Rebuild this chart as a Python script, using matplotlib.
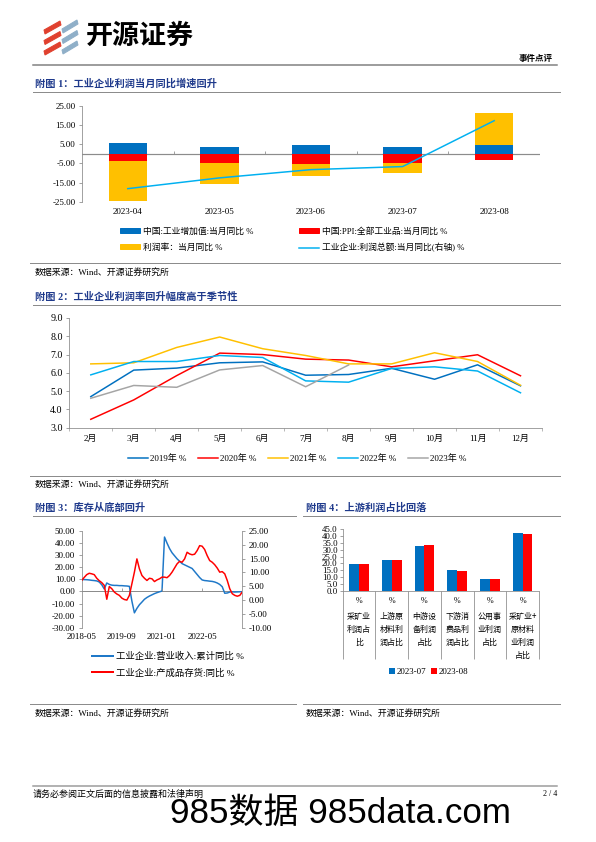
import numpy as np
import pandas as pd
import matplotlib
matplotlib.use("Agg")
import matplotlib.pyplot as plt
from matplotlib.patches import Patch, Polygon
from matplotlib.lines import Line2D
from matplotlib.ticker import FormatStrFormatter

# chart 1 data
c1_months = ["2023-04", "2023-05", "2023-06", "2023-07", "2023-08"]
c1_iva = [5.6, 3.5, 4.4, 3.7, 4.5]
c1_ppi = [-3.8, -4.8, -5.6, -4.6, -3.3]
c1_margin = [-21.0, -11.2, -5.9, -5.3, 16.7]
c1_profit = [-18.2, -12.6, -8.3, -6.7, 17.2]

# chart 2 data
c2_months = ["2月", "3月", "4月", "5月", "6月", "7月", "8月", "9月", "10月", "11月", "12月"]
c2_2019 = [4.70, 6.15, 6.26, 6.55, 6.60, 5.87, 5.91, 6.25, 5.65, 6.44, 5.29]
c2_2020 = [3.46, 4.52, 5.85, 7.08, 7.00, 6.75, 6.70, 6.33, 6.66, 6.99, 5.84]
c2_2021 = [6.49, 6.55, 7.39, 7.96, 7.32, 6.95, 6.49, 6.49, 7.10, 6.62, 5.32]
c2_2022 = [5.89, 6.62, 6.62, 6.95, 6.84, 5.56, 5.49, 6.24, 6.33, 6.10, 4.91]
c2_2023 = [4.61, 5.31, 5.21, 6.16, 6.40, 5.24, 6.43]

# chart 3 data (monthly from 2018-05)
c3_revenue = [9.9, 9.8, 9.7, 9.5, 9.2, 9.0, 8.7, 7.8, 5.5, 2.0,
              7.0, 5.8, 5.2, 5.0, 5.0, 4.8, 4.8, 4.6, 4.5, 4.2,
              -8.0, -17.7, -14.0, -11.0, -8.8, -6.5, -5.0, -3.8, -2.8, -1.8,
              -1.0, -0.3, 0.3, 45.0, 40.0, 35.5, 32.0, 29.5, 27.0, 25.0,
              23.0, 22.0, 21.0, 20.0, 19.0, 16.5, 14.0, 11.5, 9.5, 9.0,
              8.8, 8.5, 8.3, 7.8, 7.0, 5.8, 3.9, -1.5, -1.3, -0.5,
              -0.3, -0.5, -0.4, -0.3, -0.2]
c3_inventory = [7.1, 8.2, 9.2, 9.7, 9.5, 9.2, 7.9, 7.0, 6.3, 5.3,
                0.3, 4.9, 4.1, 2.9, 2.2, 1.7, 0.7, 0.2, 0.0, 1.7,
                5.9, 10.1, 14.9, 11.3, 8.9, 7.9, 7.1, 7.9, 7.7, 6.7,
                7.3, 7.7, 8.3, 8.3, 8.1, 8.9, 10.1, 11.6, 13.1, 14.0,
                13.7, 14.9, 17.3, 16.7, 16.4, 16.6, 17.9, 19.7, 19.5, 18.3,
                16.1, 14.3, 13.7, 12.8, 11.6, 10.1, 10.3, 9.5, 7.1, 4.1,
                2.3, 1.7, 1.4, 1.7, 2.9]
c3_dates = pd.period_range("2018-05", periods=len(c3_revenue), freq="M").strftime("%Y-%m")
c3_tick_idx = [0, 16, 32, 48]

# chart 4 data
c4_cats = ["采矿业\n利润占\n比", "上游原\n材料利\n润占比", "中游设\n备利润\n占比",
           "下游消\n费品利\n润占比", "公用事\n业利润\n占比", "采矿业+\n原材料\n业利润\n占比"]
c4_jul = [19.8, 22.4, 32.6, 15.0, 8.4, 42.0]
c4_aug = [19.4, 22.6, 33.3, 14.8, 8.4, 41.5]

W, H = 596, 842
NAVY = "#1F3A8C"
GRAY = "#8C8C8C"
BLUE = "#0070C0"
RED = "#FF0000"
YELLOW = "#FFC000"
CYAN = "#00B0F0"
SERIF_CJK = ["Liberation Serif", "Noto Sans CJK SC"]
SANS_CJK = ["Noto Sans CJK SC"]

plt.rcParams["font.family"] = SERIF_CJK
plt.rcParams["axes.unicode_minus"] = False
plt.rcParams["font.size"] = 9

fig = plt.figure(figsize=(W / 72, H / 72), dpi=72)


def box(x0, y0, x1, y1):
    return [x0 / W, 1 - y1 / H, (x1 - x0) / W, (y1 - y0) / H]


def hline(x0, x1, y, color=GRAY, lw=1.0):
    fig.add_artist(Line2D([x0 / W, x1 / W], [1 - y / H, 1 - y / H], color=color, lw=lw))


def ftext(x, y, s, **kw):
    fig.text(x / W, 1 - y / H, s, **kw)


def style_axis(ax, sides):
    for s in ["top", "right", "bottom", "left"]:
        ax.spines[s].set_visible(s in sides)
        ax.spines[s].set_color(GRAY)
    ax.tick_params(color=GRAY, labelcolor="black", length=3, width=0.8, labelsize=9)


def title(x, y, s, x0, x1):
    ftext(x, y, s, fontsize=10.2, fontweight="bold", color=NAVY, va="center")
    hline(x0, x1, y + 8)


def source(x, y, x0, x1):
    hline(x0, x1, y - 9)
    ftext(x, y, "数据来源：Wind、开源证券研究所", fontsize=8.9, va="center")


# header, rough logo
for i in range(3):
    yy = 21 + i * 10.5
    fig.add_artist(Polygon([(44 / W, 1 - (yy + 9) / H), (60 / W, 1 - yy / H),
                            (61 / W, 1 - (yy + 4) / H), (45 / W, 1 - (yy + 13) / H)],
                           closed=True, color="#E0402E", transform=fig.transFigure))
    fig.add_artist(Polygon([(62 / W, 1 - (yy + 8) / H), (77 / W, 1 - (yy - 1) / H),
                            (78 / W, 1 - (yy + 3) / H), (63 / W, 1 - (yy + 12) / H)],
                           closed=True, color="#8FAFC8", transform=fig.transFigure))
ftext(86, 36, "开源证券", fontsize=27, fontweight="bold", family=SANS_CJK, va="center")
hline(33, 557, 65, color="#7F7F7F", lw=1.5)
ftext(553, 59, "事件点评", fontsize=8.5, fontweight="bold", family=SANS_CJK, ha="right", va="center")

# chart 1
title(35, 84, "附图 1：工业企业利润当月同比增速回升", 33, 560)
ax1 = fig.add_axes(box(82, 105.7, 540, 201.7))
x1 = np.arange(len(c1_months))
pos = np.zeros(len(x1))
neg = np.zeros(len(x1))
for vals, col in [(c1_iva, BLUE), (c1_ppi, RED), (c1_margin, YELLOW)]:
    v = np.array(vals)
    ax1.bar(x1, v, 0.42, bottom=np.where(v >= 0, pos, neg), color=col, zorder=2)
    pos = pos + np.clip(v, 0, None)
    neg = neg + np.clip(v, None, 0)
ax1.set_xlim(-0.5, 4.5)
ax1.set_ylim(-25, 25)
ax1.set_yticks(np.arange(-25, 26, 10))
ax1.yaxis.set_major_formatter(FormatStrFormatter("%.2f"))
ax1.set_xticks(x1, c1_months)
style_axis(ax1, ["left"])
ax1.tick_params(axis="x", length=0, pad=6)
ax1.axhline(0, color=GRAY, lw=1.2, zorder=1)
ax1.vlines(x1 + 0.5, 0, 1.6, color=GRAY, lw=0.8)
ax1b = ax1.twinx()
ax1b.plot(x1, c1_profit, color=CYAN, lw=1.5)
ax1b.set_ylim(-25, 25)
ax1b.axis("off")

h1 = [Patch(color=BLUE), Patch(color=YELLOW), Patch(color=RED), Line2D([], [], color=CYAN, lw=1.5)]
l1 = ["中国:工业增加值:当月同比 %", "利润率：当月同比 %",
      "中国:PPI:全部工业品:当月同比 %", "工业企业:利润总额:当月同比(右轴) %"]
fig.legend(h1, l1, ncol=2, loc="upper left", bbox_to_anchor=(120 / W, 1 - 227 / H),
           frameon=False, fontsize=8.8, handlelength=2.25, handleheight=0.55, handletextpad=0.35,
           columnspacing=5.2, labelspacing=0.85, borderpad=0, borderaxespad=0)
source(35, 272, 30, 560)

# chart 2
title(35, 297, "附图 2：工业企业利润率回升幅度高于季节性", 33, 560)
ax2 = fig.add_axes(box(69.3, 318, 542, 427.7))
for vals, col, lab in [(c2_2019, BLUE, "2019年 %"), (c2_2020, RED, "2020年 %"),
                       (c2_2021, YELLOW, "2021年 %"), (c2_2022, CYAN, "2022年 %"),
                       (c2_2023, "#A5A5A5", "2023年 %")]:
    ax2.plot(np.arange(len(vals)), vals, color=col, lw=1.5, label=lab)
ax2.set_xlim(-0.5, 10.5)
ax2.set_ylim(3, 9)
ax2.set_yticks(np.arange(3, 9.1, 1))
ax2.yaxis.set_major_formatter(FormatStrFormatter("%.1f"))
ax2.set_xticks(np.arange(len(c2_months)), c2_months)
ax2.set_xticks(np.arange(-0.5, len(c2_months), 1), minor=True)
style_axis(ax2, ["left", "bottom"])
ax2.tick_params(axis="y", labelsize=10)
ax2.tick_params(axis="x", which="major", length=0, pad=7)
ax2.tick_params(axis="x", which="minor", length=3, color=GRAY)
fig.legend(*ax2.get_legend_handles_labels(), ncol=5, loc="upper left",
           bbox_to_anchor=(128 / W, 1 - 454 / H), frameon=False, fontsize=9,
           handlelength=2.2, handletextpad=0.2, columnspacing=1.35, borderpad=0, borderaxespad=0)
source(35, 484.5, 30, 560)

# chart 3
title(35, 508, "附图 3：库存从底部回升", 33, 296)
ax3 = fig.add_axes(box(81.7, 531, 242.3, 627.7))
x3 = np.arange(len(c3_revenue))
ax3.plot(x3, c3_revenue, color="#1F78C8", lw=1.5)
ax3.set_xlim(0, len(x3) - 1)
ax3.set_ylim(-30, 50)
ax3.set_yticks(np.arange(-30, 51, 10))
ax3.yaxis.set_major_formatter(FormatStrFormatter("%.2f"))
ax3.set_xticks(c3_tick_idx, [c3_dates[i] for i in c3_tick_idx])
style_axis(ax3, ["left"])
ax3.tick_params(axis="x", length=0, pad=5)
ax3.axhline(0, color=GRAY, lw=1.0, zorder=1)
ax3.vlines(c3_tick_idx[1:], 0, 2.5, color=GRAY, lw=0.8)
ax3r = ax3.twinx()
ax3r.plot(x3, c3_inventory, color=RED, lw=1.5)
ax3r.set_ylim(-10, 25)
ax3r.set_yticks(np.arange(-10, 26, 5))
ax3r.yaxis.set_major_formatter(FormatStrFormatter("%.2f"))
style_axis(ax3r, ["right"])
fig.legend([Line2D([], [], color="#1F78C8", lw=2), Line2D([], [], color=RED, lw=2)],
           ["工业企业:营业收入:累计同比 %", "工业企业:产成品存货:同比 %"],
           loc="upper left", bbox_to_anchor=(92 / W, 1 - 652 / H), frameon=False, fontsize=9.4,
           handlelength=2.25, handletextpad=0.3, labelspacing=0.75, borderpad=0, borderaxespad=0)
source(35, 713, 30, 296)

# chart 4
title(306, 508, "附图 4：上游利润占比回落", 303, 560)
ax4 = fig.add_axes(box(342.7, 529.3, 539, 590.7))
x4 = np.arange(len(c4_cats))
ax4.bar(x4 - 0.15, c4_jul, 0.3, color=BLUE, label="2023-07")
ax4.bar(x4 + 0.15, c4_aug, 0.3, color=RED, label="2023-08")
ax4.set_xlim(-0.5, len(x4) - 0.5)
ax4.set_ylim(0, 45)
ax4.set_yticks(np.arange(0, 46, 5))
ax4.yaxis.set_major_formatter(FormatStrFormatter("%.1f"))
ax4.set_xticks([])
style_axis(ax4, ["left", "bottom"])
ax4.tick_params(axis="y", labelsize=8.8, pad=2)
tr4 = ax4.get_xaxis_transform()
ax4.vlines(np.arange(-0.5, len(x4), 1), -1.11, 0, transform=tr4, clip_on=False, color=GRAY, lw=0.8)
for i, lab in enumerate(c4_cats):
    ax4.text(i, -0.17, "%", transform=tr4, ha="center", va="center", fontsize=8)
    ax4.text(i, -0.35, lab, transform=tr4, ha="center", va="top", fontsize=8,
             family=SANS_CJK, linespacing=1.55)
fig.legend(*ax4.get_legend_handles_labels(), ncol=2, loc="upper left",
           bbox_to_anchor=(389 / W, 1 - 668 / H), frameon=False, fontsize=8.9,
           handlelength=0.7, handleheight=0.7, handletextpad=0.2, columnspacing=0.5,
           borderpad=0, borderaxespad=0)
source(306, 713, 303, 560)

# footer
hline(33, 557, 786, color="#9A9A9A", lw=1.5)
ftext(33, 794, "请务必参阅正文后面的信息披露和法律声明", fontsize=9, va="center")
ftext(557, 794, "2 / 4", fontsize=8, ha="right", va="center")
ftext(340, 813, "985数据 985data.com", fontsize=35, ha="center", va="center",
      family=["Liberation Sans", "Noto Sans CJK SC"])

fig.savefig("out.png", dpi=72)
